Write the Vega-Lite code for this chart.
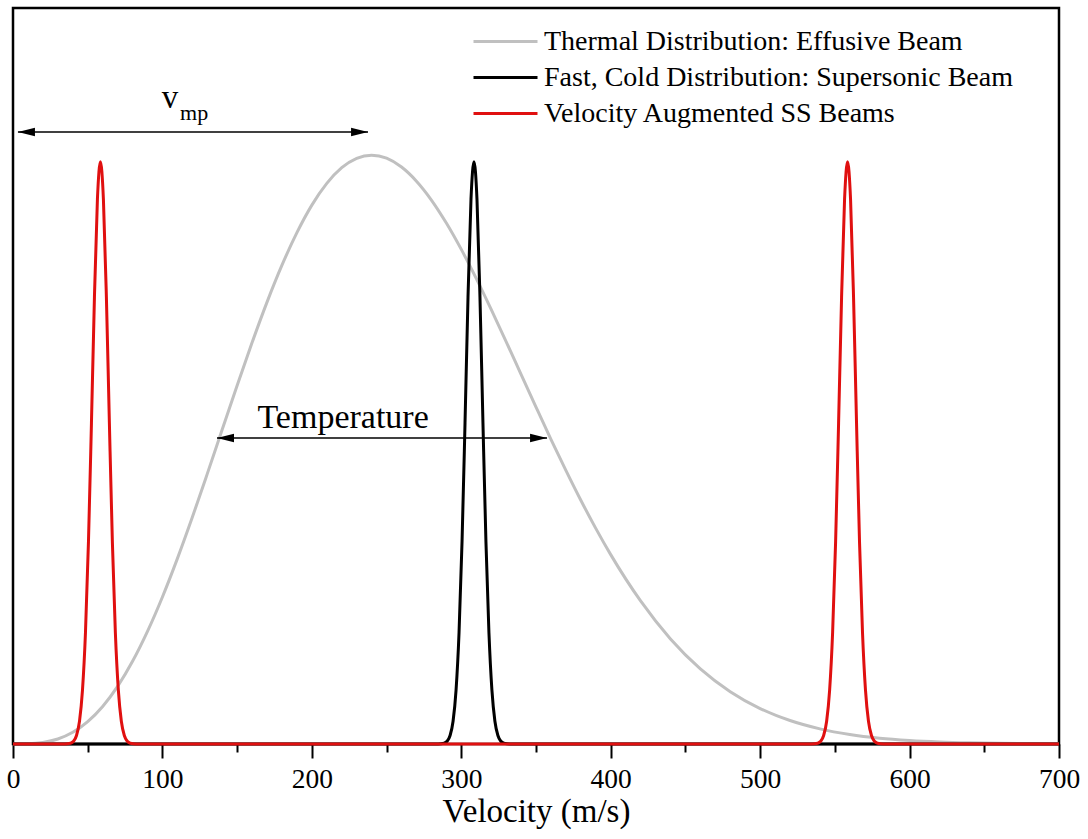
{
  "$schema": "https://vega.github.io/schema/vega-lite/v6.json",
  "width": 1046,
  "height": 736,
  "autosize": {"type": "none"},
  "padding": {"left": 13, "top": 8, "right": 29, "bottom": 95},
  "background": "white",
  "config": {
    "view": {"stroke": "black", "strokeWidth": 2.5},
    "font": "Liberation Serif"
  },
  "layer": [
    {
      "data": {
        "values": [
          {"g": "T", "v": 0, "f": 0},
          {"g": "T", "v": 10, "f": 0.0003},
          {"g": "T", "v": 20, "f": 0.0021},
          {"g": "T", "v": 30, "f": 0.0068},
          {"g": "T", "v": 40, "f": 0.0159},
          {"g": "T", "v": 50, "f": 0.0304},
          {"g": "T", "v": 60, "f": 0.0510},
          {"g": "T", "v": 70, "f": 0.0783},
          {"g": "T", "v": 80, "f": 0.1124},
          {"g": "T", "v": 90, "f": 0.1531},
          {"g": "T", "v": 100, "f": 0.1998},
          {"g": "T", "v": 110, "f": 0.2519},
          {"g": "T", "v": 120, "f": 0.3080},
          {"g": "T", "v": 130, "f": 0.3670},
          {"g": "T", "v": 140, "f": 0.4272},
          {"g": "T", "v": 150, "f": 0.4872},
          {"g": "T", "v": 160, "f": 0.5454},
          {"g": "T", "v": 170, "f": 0.6004},
          {"g": "T", "v": 180, "f": 0.6506},
          {"g": "T", "v": 190, "f": 0.6948},
          {"g": "T", "v": 200, "f": 0.7322},
          {"g": "T", "v": 210, "f": 0.7617},
          {"g": "T", "v": 220, "f": 0.7830},
          {"g": "T", "v": 230, "f": 0.7958},
          {"g": "T", "v": 240, "f": 0.8000},
          {"g": "T", "v": 250, "f": 0.7959},
          {"g": "T", "v": 260, "f": 0.7839},
          {"g": "T", "v": 270, "f": 0.7647},
          {"g": "T", "v": 280, "f": 0.7391},
          {"g": "T", "v": 290, "f": 0.7078},
          {"g": "T", "v": 300, "f": 0.6720},
          {"g": "T", "v": 310, "f": 0.6326},
          {"g": "T", "v": 320, "f": 0.5905},
          {"g": "T", "v": 330, "f": 0.5468},
          {"g": "T", "v": 340, "f": 0.5022},
          {"g": "T", "v": 350, "f": 0.4578},
          {"g": "T", "v": 360, "f": 0.4140},
          {"g": "T", "v": 370, "f": 0.3718},
          {"g": "T", "v": 380, "f": 0.3312},
          {"g": "T", "v": 390, "f": 0.2930},
          {"g": "T", "v": 400, "f": 0.2573},
          {"g": "T", "v": 420, "f": 0.1944},
          {"g": "T", "v": 440, "f": 0.1428},
          {"g": "T", "v": 460, "f": 0.1021},
          {"g": "T", "v": 480, "f": 0.0711},
          {"g": "T", "v": 500, "f": 0.0482},
          {"g": "T", "v": 520, "f": 0.0319},
          {"g": "T", "v": 540, "f": 0.0206},
          {"g": "T", "v": 560, "f": 0.0129},
          {"g": "T", "v": 580, "f": 0.0079},
          {"g": "T", "v": 600, "f": 0.0048},
          {"g": "T", "v": 620, "f": 0.0028},
          {"g": "T", "v": 640, "f": 0.0016},
          {"g": "T", "v": 660, "f": 0.0009},
          {"g": "T", "v": 680, "f": 0.0005},
          {"g": "T", "v": 700, "f": 0.0003},

          {"g": "F", "v": 0, "f": 0},
          {"g": "F", "v": 284.5, "f": 0.0001},
          {"g": "F", "v": 288.5, "f": 0.0011},
          {"g": "F", "v": 290.5, "f": 0.0037},
          {"g": "F", "v": 292.5, "f": 0.0115},
          {"g": "F", "v": 294.5, "f": 0.0310},
          {"g": "F", "v": 296.5, "f": 0.0732},
          {"g": "F", "v": 298.5, "f": 0.1515},
          {"g": "F", "v": 300.5, "f": 0.2746},
          {"g": "F", "v": 302.5, "f": 0.4363},
          {"g": "F", "v": 304.5, "f": 0.6072},
          {"g": "F", "v": 306.5, "f": 0.7404},
          {"g": "F", "v": 308.5, "f": 0.7910},
          {"g": "F", "v": 310.5, "f": 0.7404},
          {"g": "F", "v": 312.5, "f": 0.6072},
          {"g": "F", "v": 314.5, "f": 0.4363},
          {"g": "F", "v": 316.5, "f": 0.2746},
          {"g": "F", "v": 318.5, "f": 0.1515},
          {"g": "F", "v": 320.5, "f": 0.0732},
          {"g": "F", "v": 322.5, "f": 0.0310},
          {"g": "F", "v": 324.5, "f": 0.0115},
          {"g": "F", "v": 326.5, "f": 0.0037},
          {"g": "F", "v": 328.5, "f": 0.0011},
          {"g": "F", "v": 332.5, "f": 0.0001},
          {"g": "F", "v": 700, "f": 0},

          {"g": "V", "v": 0, "f": 0},
          {"g": "V", "v": 34.5, "f": 0.0001},
          {"g": "V", "v": 38.5, "f": 0.0011},
          {"g": "V", "v": 40.5, "f": 0.0037},
          {"g": "V", "v": 42.5, "f": 0.0115},
          {"g": "V", "v": 44.5, "f": 0.0310},
          {"g": "V", "v": 46.5, "f": 0.0732},
          {"g": "V", "v": 48.5, "f": 0.1515},
          {"g": "V", "v": 50.5, "f": 0.2746},
          {"g": "V", "v": 52.5, "f": 0.4363},
          {"g": "V", "v": 54.5, "f": 0.6072},
          {"g": "V", "v": 56.5, "f": 0.7404},
          {"g": "V", "v": 58.5, "f": 0.7910},
          {"g": "V", "v": 60.5, "f": 0.7404},
          {"g": "V", "v": 62.5, "f": 0.6072},
          {"g": "V", "v": 64.5, "f": 0.4363},
          {"g": "V", "v": 66.5, "f": 0.2746},
          {"g": "V", "v": 68.5, "f": 0.1515},
          {"g": "V", "v": 70.5, "f": 0.0732},
          {"g": "V", "v": 72.5, "f": 0.0310},
          {"g": "V", "v": 74.5, "f": 0.0115},
          {"g": "V", "v": 76.5, "f": 0.0037},
          {"g": "V", "v": 78.5, "f": 0.0011},
          {"g": "V", "v": 82.5, "f": 0.0001},
          {"g": "V", "v": 534.5, "f": 0.0001},
          {"g": "V", "v": 538.5, "f": 0.0011},
          {"g": "V", "v": 540.5, "f": 0.0037},
          {"g": "V", "v": 542.5, "f": 0.0115},
          {"g": "V", "v": 544.5, "f": 0.0310},
          {"g": "V", "v": 546.5, "f": 0.0732},
          {"g": "V", "v": 548.5, "f": 0.1515},
          {"g": "V", "v": 550.5, "f": 0.2746},
          {"g": "V", "v": 552.5, "f": 0.4363},
          {"g": "V", "v": 554.5, "f": 0.6072},
          {"g": "V", "v": 556.5, "f": 0.7404},
          {"g": "V", "v": 558.5, "f": 0.7910},
          {"g": "V", "v": 560.5, "f": 0.7404},
          {"g": "V", "v": 562.5, "f": 0.6072},
          {"g": "V", "v": 564.5, "f": 0.4363},
          {"g": "V", "v": 566.5, "f": 0.2746},
          {"g": "V", "v": 568.5, "f": 0.1515},
          {"g": "V", "v": 570.5, "f": 0.0732},
          {"g": "V", "v": 572.5, "f": 0.0310},
          {"g": "V", "v": 574.5, "f": 0.0115},
          {"g": "V", "v": 576.5, "f": 0.0037},
          {"g": "V", "v": 578.5, "f": 0.0011},
          {"g": "V", "v": 582.5, "f": 0.0001},
          {"g": "V", "v": 700, "f": 0}
        ]
      },
      "mark": {"type": "line", "strokeWidth": 3, "interpolate": "monotone"},
      "encoding": {
        "x": {
          "field": "v", "type": "quantitative",
          "scale": {"domain": [0, 700], "nice": false},
          "axis": {
            "title": "Velocity (m/s)",
            "values": [0, 50, 100, 150, 200, 250, 300, 350, 400, 450, 500, 550, 600, 650, 700],
            "labelExpr": "datum.value % 100 === 0 ? datum.label : ''",
            "format": "d",
            "grid": false,
            "domain": false,
            "tickColor": "black",
            "tickWidth": 2,
            "tickSize": {"condition": {"test": "datum.value % 100 === 0", "value": 14}, "value": 8},
            "labelPadding": 7,
            "labelFont": "Liberation Serif",
            "labelFontSize": 27.5,
            "labelColor": "black",
            "labelFlush": false,
            "titleFont": "Liberation Serif",
            "titleFontSize": 33,
            "titleFontWeight": "normal",
            "titleColor": "black",
            "titlePadding": 3
          }
        },
        "y": {
          "field": "f", "type": "quantitative",
          "scale": {"domain": [0, 1], "nice": false},
          "axis": null
        },
        "color": {
          "field": "g", "type": "nominal",
          "scale": {"domain": ["T", "F", "V"], "range": ["#c0c0c0", "#000000", "#e01010"]},
          "legend": {
            "orient": "none",
            "legendX": 491,
            "legendY": 16,
            "title": null,
            "symbolType": "M-3,0H1",
            "symbolSize": 1024,
            "symbolStrokeWidth": 3,
            "labelFont": "Liberation Serif",
            "labelFontSize": 28,
            "labelColor": "black",
            "labelLimit": 600,
            "labelOffset": 5,
            "rowPadding": 4,
            "labelExpr": "datum.value === 'T' ? 'Thermal Distribution: Effusive Beam' : datum.value === 'F' ? 'Fast, Cold Distribution: Supersonic Beam' : 'Velocity Augmented SS Beams'"
          }
        },
        "detail": {"field": "g"}
      }
    },
    {
      "data": {"values": [{}]},
      "mark": {"type": "rule", "color": "black", "strokeWidth": 1.5},
      "encoding": {"x": {"datum": 3.3}, "x2": {"datum": 237.6}, "y": {"datum": 0.8315}}
    },
    {
      "data": {"values": [{}]},
      "mark": {"type": "point", "shape": "M0,0L2,-0.5L2,0.5Z", "filled": true, "color": "black", "opacity": 1, "size": 289, "strokeWidth": 0},
      "encoding": {"x": {"datum": 3.3}, "y": {"datum": 0.8315}}
    },
    {
      "data": {"values": [{}]},
      "mark": {"type": "point", "shape": "M0,0L-2,-0.5L-2,0.5Z", "filled": true, "color": "black", "opacity": 1, "size": 289, "strokeWidth": 0},
      "encoding": {"x": {"datum": 237.6}, "y": {"datum": 0.8315}}
    },
    {
      "data": {"values": [{}]},
      "mark": {"type": "rule", "color": "black", "strokeWidth": 1.5},
      "encoding": {"x": {"datum": 136.5}, "x2": {"datum": 357.4}, "y": {"datum": 0.4158}}
    },
    {
      "data": {"values": [{}]},
      "mark": {"type": "point", "shape": "M0,0L2,-0.5L2,0.5Z", "filled": true, "color": "black", "opacity": 1, "size": 289, "strokeWidth": 0},
      "encoding": {"x": {"datum": 136.5}, "y": {"datum": 0.4158}}
    },
    {
      "data": {"values": [{}]},
      "mark": {"type": "point", "shape": "M0,0L-2,-0.5L-2,0.5Z", "filled": true, "color": "black", "opacity": 1, "size": 289, "strokeWidth": 0},
      "encoding": {"x": {"datum": 357.4}, "y": {"datum": 0.4158}}
    },
    {
      "data": {"values": [{}]},
      "mark": {"type": "text", "text": "Temperature", "font": "Liberation Serif", "fontSize": 34, "align": "center", "baseline": "alphabetic", "color": "black"},
      "encoding": {"x": {"datum": 220.9}, "y": {"datum": 0.4293}}
    },
    {
      "data": {"values": [{}]},
      "mark": {"type": "text", "text": "v", "font": "Liberation Serif", "fontSize": 33, "align": "center", "baseline": "alphabetic", "color": "black"},
      "encoding": {"x": {"datum": 105.1}, "y": {"datum": 0.8641}}
    },
    {
      "data": {"values": [{}]},
      "mark": {"type": "text", "text": "mp", "font": "Liberation Serif", "fontSize": 22, "align": "left", "baseline": "alphabetic", "color": "black"},
      "encoding": {"x": {"datum": 111.8}, "y": {"datum": 0.8478}}
    }
  ]
}
